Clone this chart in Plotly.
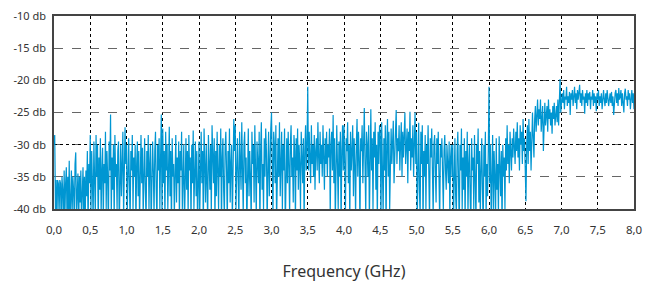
import numpy as np
import plotly.graph_objects as go

# Spectrum level (db), one value per 0.01 GHz from 0.00 to 8.00 GHz
seg_00 = [-30, -28.5, -40, -35.5, -42, -35.5, -36, -41, -35.5, -36, -43, -35, -37, -42, -34, -41, -36, -33.5, -42, -35,
          -40, -32.5, -43, -36, -34, -41, -35, -37, -42, -33, -31.2, -41, -36, -34.5, -43, -35, -39, -34, -42, -36,
          -33.5, -41, -35, -42, -34, -38, -31, -43, -33, -36]
seg_05 = [-28.5, -40, -31, -36, -42, -29.5, -33, -41, -28.5, -35, -30, -43, -32, -37, -29, -41, -34, -30.5, -42, -33,
          -36, -28, -40, -31, -35, -43, -29.5, -34, -25.3, -41, -32, -37, -30, -42, -28.5, -35, -33, -40, -31, -29.5,
          -43, -34, -30, -38, -32, -28, -41, -35, -27.3, -33]
seg_10 = [-30, -41, -33, -29, -36, -42, -31, -34, -28.5, -40, -32, -35, -30, -43, -33, -29.5, -38, -31, -42, -34,
          -28.5, -36, -30.5, -41, -33, -29, -37, -42, -31, -35, -28.5, -40, -33, -30, -43, -36, -29.5, -34, -41, -31,
          -28, -37, -42, -30, -34, -29, -40, -32, -25.3, -41]
seg_15 = [-27.5, -36, -31, -42, -28, -34, -30, -40, -32, -27.2, -38, -31, -43, -29, -35, -33, -41, -30, -28.5, -39,
          -32, -36, -29.5, -42, -31, -34, -28, -40, -33, -30, -43, -35, -29, -37, -31, -41, -28.5, -34, -32, -42,
          -30, -36, -27.8, -40, -33, -29.5, -38, -31, -43, -30]
seg_20 = [-29.5, -41, -34, -28, -36, -31, -43, -27.5, -33, -39, -30, -35, -42, -28.5, -32, -37, -30, -41, -27, -34,
          -36, -29, -42, -31, -38, -28, -33, -40, -30, -35, -27.5, -43, -32, -29, -37, -41, -30.5, -28, -34, -42,
          -31, -36, -27.5, -39, -33, -30, -42, -35, -26, -31]
seg_25 = [-27, -40, -33, -29, -35, -42, -28, -31, -37, -26.5, -34, -41, -30, -28, -36, -32, -43, -29, -27.5, -38,
          -31, -35, -42, -28, -33, -30, -39, -27, -34, -41, -29.5, -32, -36, -28, -43, -31, -26.5, -37, -33, -40,
          -29, -35, -27.5, -31, -42, -34, -28, -38, -30, -27.5]
seg_30 = [-25, -33, -41, -28, -30, -36, -27, -42, -31, -29, -35, -26.5, -38, -32, -28, -40, -30, -34, -27.5, -43,
          -31, -29, -36, -28, -33, -41, -30, -27, -35, -32, -39, -28.5, -31, -42, -29, -34, -27.5, -37, -30, -33,
          -40, -28, -32, -36, -29, -42, -31, -27, -34, -30]
seg_35 = [-21, -34, -28, -31, -36, -27, -33, -30, -35, -28.5, -37, -31, -29, -34, -26.5, -32, -36, -28, -33, -30,
          -35, -27, -31, -37, -29, -33, -28, -35, -30, -32, -27.5, -41, -30, -28, -34, -25.4, -36, -29, -42, -31,
          -27, -33, -40, -29.5, -35, -28, -43, -31, -27, -34]
seg_40 = [-27, -33, -40, -29, -31, -26.5, -36, -30, -42, -28, -34, -31, -27, -38, -29, -33, -41, -30, -26, -35,
          -28, -32, -43, -29, -31, -27, -36, -30, -24.3, -33, -41, -28, -30, -35, -27, -42, -31, -24.5, -34, -29,
          -40, -28, -32, -26.5, -37, -30, -42, -28, -33, -27]
seg_45 = [-28, -42, -26.5, -31, -41, -29, -34, -27, -43, -30, -26, -35, -28, -40, -31, -27.5, -33, -29, -26.3, -36,
          -30, -28, -24.6, -33, -29, -31, -27, -34, -30, -26.5, -35, -28, -32, -29, -25, -33, -30, -27.5, -36, -28,
          -31, -24.9, -34, -29, -32, -27, -35, -30, -25, -33]
seg_50 = [-28, -42, -30, -26.6, -37, -41, -28, -33, -27, -43, -31, -35, -28.5, -40, -30, -33, -27, -38, -42, -29,
          -32, -27.5, -36, -41, -30, -28.5, -34, -39, -29, -33, -28, -37, -42, -30, -32, -29, -35, -40, -31, -28.5,
          -34, -37, -30, -33, -36, -29.5, -41, -32, -30, -35]
seg_55 = [-30, -42, -33, -29, -38, -41, -31, -28, -36, -43, -30, -34, -27.5, -40, -32, -37, -29, -42, -31, -35,
          -28, -41, -33, -30, -38, -43, -29, -34, -32, -40, -28.5, -36, -42, -30, -33, -27.5, -39, -31, -41, -34,
          -29, -37, -43, -30, -35, -28, -41, -33, -38, -31]
seg_60 = [-21, -36, -30, -42, -33, -28.5, -40, -31, -35, -42, -29, -37, -33, -41, -28.7, -34, -38, -31, -43, -30,
          -35, -32, -40, -29, -34, -27, -33, -30, -36, -28, -31, -34, -29, -32, -27.5, -30, -33, -28, -31, -26.5,
          -32, -29, -34, -27, -30, -28, -33, -26, -31, -29]
seg_65 = [-36, -38.8, -30, -27, -33, -26, -31, -28, -34, -27, -25, -29, -32, -26, -24, -28, -25.5, -23, -27, -24.5,
          -26, -23, -28, -25, -24, -31, -26, -23.5, -27, -25, -24, -28, -23, -26, -24.5, -27, -25, -28.3, -24, -26,
          -23.5, -27, -25, -24, -26.5, -23, -27, -24.5, -19.8, -25]
seg_70 = [-24, -22, -23.5, -21.5, -24.5, -22.5, -23, -21, -24, -22.5, -23.5, -21.8, -25.4, -22, -23, -21.5, -24,
          -22.5, -21, -23.5, -22, -24.5, -21.5, -23, -22, -20.7, -23.5, -22, -24, -21.5, -23, -22.5, -25.2, -22,
          -23.5, -21.5, -24, -22, -23, -21.8, -24.5, -22.5, -23, -21.5, -24, -22, -23.5, -22.5, -24.8, -22]
seg_75 = [-23, -21.5, -24, -22.5, -23.5, -22, -24.5, -22.5, -21.5, -23, -24, -22, -23.5, -21.5, -22.5, -24, -23,
          -22, -23.5, -21.8, -24, -22.5, -25.4, -23, -22, -21.5, -23.5, -22, -24, -21.2, -23, -22.5, -21.5, -24, -22,
          -23.5, -25, -22, -21.3, -23, -22.5, -24, -21.5, -23, -22, -24.5, -22.5, -21.5, -23.5, -22, -24.5]

level_db = (seg_00 + seg_05 + seg_10 + seg_15 + seg_20 + seg_25 + seg_30 + seg_35 +
            seg_40 + seg_45 + seg_50 + seg_55 + seg_60 + seg_65 + seg_70 + seg_75)
freq_ghz = np.linspace(0.0, 8.0, len(level_db))

x_ticks = [0.0, 0.5, 1.0, 1.5, 2.0, 2.5, 3.0, 3.5, 4.0, 4.5, 5.0, 5.5, 6.0, 6.5, 7.0, 7.5, 8.0]
y_ticks = [-40, -35, -30, -25, -20, -15, -10]
y_tick_text = [f"{v} db" for v in y_ticks]

FONT = "Noto Sans, Open Sans, sans-serif"

fig = go.Figure()
fig.add_trace(go.Scatter(x=freq_ghz, y=level_db, mode="lines",
                         line=dict(color="#0096d2", width=1.2),
                         hoverinfo="skip", showlegend=False))
# invisible trace for the overlay axis (major black dotted grid)
fig.add_trace(go.Scatter(x=[0, 8], y=[-40, -10], mode="lines", yaxis="y2",
                         line=dict(width=0), opacity=0, hoverinfo="skip", showlegend=False))

fig.update_layout(
    width=650, height=274,
    margin=dict(l=46, r=24, t=8, b=73),
    paper_bgcolor="white", plot_bgcolor="white",
    separators=", ",
    font=dict(family=FONT, size=11, color="#333333"),
    xaxis=dict(range=[0, 8], tickvals=x_ticks, tickformat=".1f", automargin=False,
               showgrid=True, gridcolor="#000000", griddash="dot", gridwidth=1,
               showline=True, linecolor="#444444", linewidth=1.5, mirror=True,
               ticks="", zeroline=False, ticklabelstandoff=9, ticklabeloverflow="allow",
               tickfont=dict(size=11.5, color="#333333"),
               title=dict(text="Frequency (GHz)", standoff=31,
                          font=dict(size=16, color="#333333", family=FONT))),
    yaxis=dict(range=[-40, -10], tickvals=y_ticks, ticktext=y_tick_text, automargin=False,
               showgrid=True, gridcolor="#666666", griddash="dash", gridwidth=1,
               showline=True, linecolor="#444444", linewidth=1.5, mirror=True,
               ticks="", zeroline=False, ticklabelstandoff=4, ticklabeloverflow="allow",
               tickfont=dict(size=11, color="#333333")),
    yaxis2=dict(range=[-40, -10], overlaying="y", side="left", automargin=False,
                tickvals=[-40, -30, -20, -10], showticklabels=False,
                showgrid=True, gridcolor="#000000", griddash="dot", gridwidth=1,
                zeroline=False, showline=False, ticks=""),
)

fig.write_html("out.html")
